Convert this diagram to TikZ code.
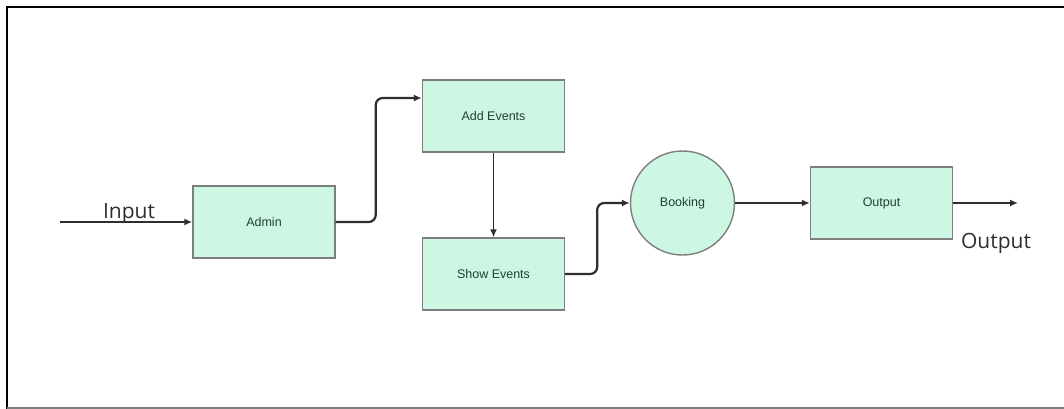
\documentclass[tikz,border=0pt]{standalone}
\usepackage{fontspec}
\setmainfont{Liberation Sans}
\newfontfamily\labelfont{Open Sans}
\usetikzlibrary{arrows.meta}
\definecolor{mint}{HTML}{CCF7E3}
\definecolor{edgegray}{HTML}{7E7E7E}
\definecolor{boxtext}{HTML}{24402F}
\definecolor{wire}{HTML}{2E2E2E}
\begin{document}
\begin{tikzpicture}[x=1pt,y=-1pt,
    block/.style={draw=edgegray,fill=mint,line width=1.4pt,minimum width=142pt,minimum height=72pt,
        text=boxtext,font=\fontsize{12.5}{14}\selectfont},
    roundblock/.style={block,circle,minimum width=0pt,minimum size=104pt},
    flow/.style={-{Latex[length=8pt,width=7pt]},draw=wire,line width=2.2pt,rounded corners=7pt},
    sidelabel/.style={text=wire,font=\labelfont\fontsize{21}{24}\selectfont,anchor=base}]
        \useasboundingbox (0,0) rectangle (1064,409);
        % frame
        \draw[line width=2pt] (6.5,409) -- (6.5,7) -- (1064,7);
        \draw[edgegray,line width=1.5pt] (6.5,408) -- (1064,408);
        % blocks
        \node[block] (admin) at (264,222) {Admin};
        \node[block] (addev) at (493.5,116) {Add Events};
        \node[block] (showev) at (493.5,274) {Show Events};
        \node[roundblock] (booking) at (682.5,203) {Booking};
        \node[block] (outbox) at (881.5,203) {Output};
        \coordinate (in) at (60,222);
        \coordinate (out) at (1018,203);
        % connectors
        \draw[flow,line width=2.6pt] (in) -- (admin.west);
        \draw[flow] (admin.east) -- ++(40,0) |- ([yshift=18pt]addev.west);
        \draw[flow,line width=1.8pt] (addev.south) -- (showev.north);
        \draw[flow] (showev.east) -- ++(32,0) |- (booking.west);
        \draw[flow] (booking.east) -- (outbox.west);
        \draw[flow] (outbox.east) -- (out);
        \node[sidelabel] (inlabel) at (129,218) {Input};
        \node[sidelabel] (outlabel) at (996,248) {Output};
\end{tikzpicture}
\end{document}
